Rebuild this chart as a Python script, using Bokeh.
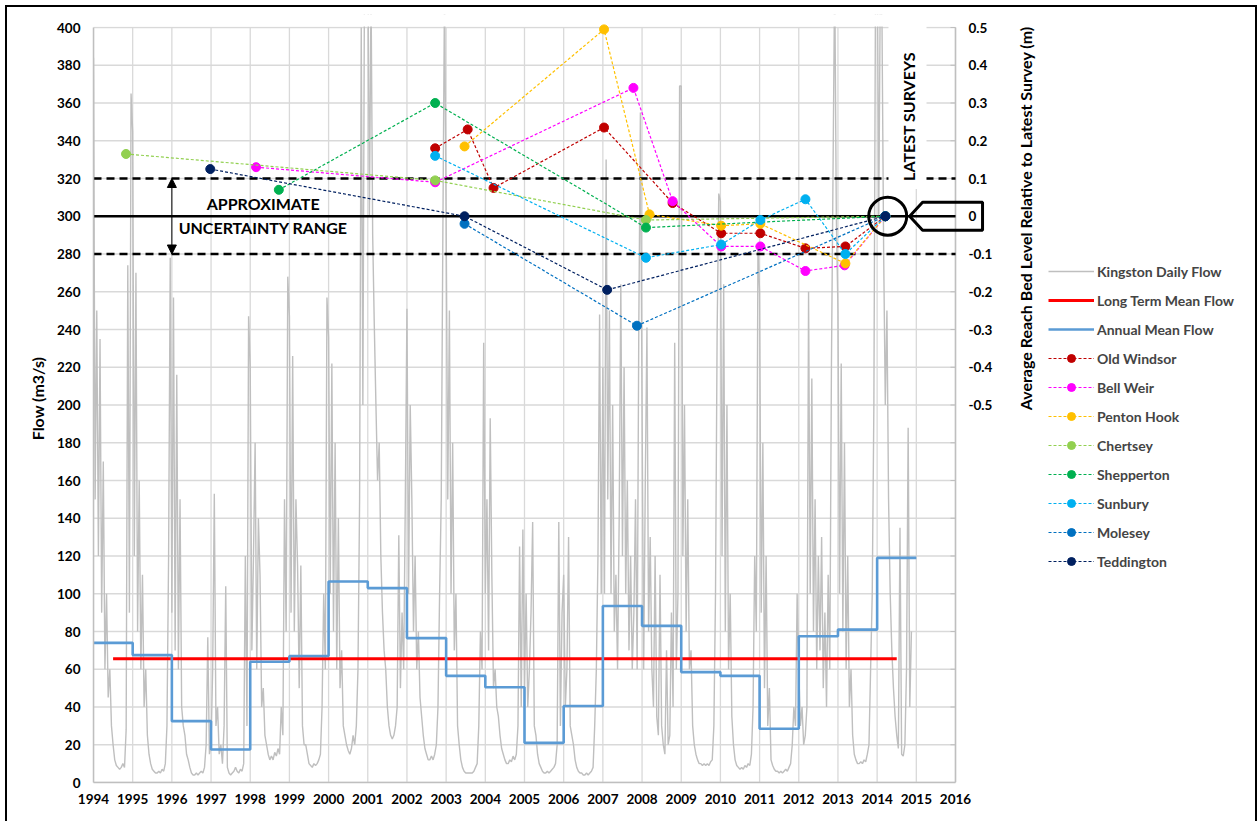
import math
from bokeh.plotting import figure
from bokeh.models import Range1d, FixedTicker, Legend, LegendItem, Label, Arrow, NormalHead
from bokeh.core.properties import value
from bokeh.embed import file_html
from bokeh.resources import INLINE

FONT = "Lato"

# ---------------- data ----------------
# Kingston daily flow (m3/s), read approximately at half-month steps, per calendar year
f1994 = [384, 150, 250, 120, 235, 90, 170, 60, 100, 45, 60, 30, 20, 12, 9, 8, 7, 8, 10, 8, 28, 274, 90, 365]
f1995 = [345, 120, 270, 80, 160, 60, 110, 40, 60, 25, 15, 10, 7, 6, 5, 5, 6, 5, 7, 6, 10, 30, 120, 278]
f1996 = [90, 257, 70, 216, 60, 150, 40, 30, 25, 15, 12, 8, 5, 4, 4, 5, 4, 5, 6, 5, 8, 20, 77, 15]
f1997 = [20, 60, 153, 30, 40, 15, 20, 10, 30, 104, 8, 5, 4, 5, 6, 8, 6, 5, 7, 6, 10, 120, 30, 247]
f1998 = [220, 70, 120, 180, 60, 140, 110, 40, 50, 25, 20, 15, 12, 14, 12, 16, 14, 18, 15, 40, 25, 150, 80, 268]
f1999 = [247, 90, 226, 80, 150, 115, 50, 115, 30, 20, 20, 15, 10, 9, 8, 10, 9, 10, 12, 15, 40, 100, 60, 257]
f2000 = [236, 100, 222, 80, 180, 60, 140, 50, 70, 30, 25, 20, 17, 15, 18, 25, 20, 30, 60, 150, 400, 200, 430, 450]
f2001 = [450, 300, 420, 290, 242, 200, 160, 180, 120, 90, 70, 60, 40, 30, 25, 23, 25, 30, 40, 131, 50, 90, 60, 150]
f2002 = [251, 100, 200, 150, 80, 120, 60, 80, 45, 35, 25, 18, 15, 12, 12, 14, 12, 15, 20, 40, 100, 150, 292, 420]
f2003 = [300, 150, 250, 100, 180, 70, 100, 30, 20, 12, 8, 6, 5, 5, 5, 5, 5, 6, 8, 10, 30, 80, 60, 233]
f2004 = [100, 150, 70, 193, 110, 50, 60, 40, 35, 25, 18, 15, 12, 10, 10, 12, 11, 14, 12, 15, 30, 125, 40, 134]
f2005 = [50, 100, 40, 60, 90, 138, 30, 25, 15, 10, 8, 6, 5, 5, 6, 5, 6, 7, 8, 10, 20, 138, 30, 90]
f2006 = [110, 40, 60, 130, 30, 25, 20, 12, 8, 6, 5, 5, 4, 4, 5, 4, 5, 6, 8, 30, 60, 120, 248, 100]
f2007 = [220, 100, 330, 150, 250, 100, 200, 80, 110, 60, 140, 264, 120, 220, 100, 160, 70, 120, 60, 90, 150, 60, 240, 355]
f2008 = [200, 60, 160, 241, 80, 130, 60, 40, 120, 35, 25, 110, 30, 20, 15, 70, 20, 25, 90, 40, 233, 60, 100, 369]
f2009 = [369, 120, 200, 80, 150, 60, 70, 30, 20, 15, 12, 10, 10, 9, 10, 9, 10, 9, 11, 12, 30, 100, 240, 312]
f2010 = [308, 120, 264, 80, 200, 60, 100, 35, 20, 12, 9, 8, 7, 8, 7, 9, 8, 10, 9, 15, 40, 120, 80, 283]
f2011 = [260, 90, 180, 50, 120, 30, 50, 12, 9, 7, 6, 6, 5, 6, 5, 6, 7, 6, 8, 10, 20, 40, 30, 100]
f2012 = [60, 30, 40, 20, 25, 40, 260, 100, 214, 80, 150, 60, 120, 70, 130, 50, 90, 40, 110, 60, 220, 325, 430, 300]
f2013 = [250, 100, 222, 80, 180, 60, 120, 40, 60, 25, 15, 12, 10, 10, 11, 10, 12, 11, 15, 20, 60, 100, 200, 420]
f2014 = [450, 300, 430, 400, 280, 200, 250, 150, 100, 70, 50, 35, 25, 18, 135, 15, 14, 20, 60, 188, 40, 80]
flow_start_year = 1994
samples_per_year = 24

# Annual mean flow (m3/s), one value per calendar year
annual_years = [1994, 1995, 1996, 1997, 1998, 1999, 2000, 2001, 2002, 2003, 2004,
                2005, 2006, 2007, 2008, 2009, 2010, 2011, 2012, 2013, 2014]
annual_mean = [74, 67.5, 32.5, 17.5, 64, 67, 106.5, 103, 76.5, 56.5, 50.5,
               21, 40.5, 93.5, 83, 58.5, 56.5, 28.5, 77.5, 81, 119]

# Long term mean flow
lt_mean = 65.5
lt_start, lt_end = 1994.5, 2014.5

# Average reach bed level relative to latest survey (m)
old_windsor_year = [2002.72, 2003.55, 2004.21, 2007.03, 2008.78, 2010.02, 2011.02, 2012.17, 2013.19, 2014.21]
old_windsor_level = [0.18, 0.23, 0.075, 0.235, 0.035, -0.045, -0.045, -0.085, -0.08, 0.0]
bell_weir_year = [1998.15, 2002.72, 2007.78, 2008.78, 2010.02, 2011.02, 2012.17, 2013.17, 2014.21]
bell_weir_level = [0.13, 0.09, 0.34, 0.04, -0.08, -0.08, -0.145, -0.13, 0.0]
penton_hook_year = [2003.47, 2007.03, 2008.19, 2010.02, 2011.02, 2013.19, 2014.21]
penton_hook_level = [0.185, 0.495, 0.005, -0.025, -0.02, -0.125, 0.0]
chertsey_year = [1994.83, 2002.72, 2008.10, 2014.21]
chertsey_level = [0.165, 0.095, -0.01, 0.0]
shepperton_year = [1998.73, 2002.72, 2008.10, 2014.21]
shepperton_level = [0.07, 0.30, -0.03, 0.0]
sunbury_year = [2002.72, 2008.10, 2010.02, 2011.02, 2012.17, 2013.19, 2014.21]
sunbury_level = [0.16, -0.11, -0.075, -0.01, 0.045, -0.10, 0.0]
molesey_year = [2003.47, 2007.87, 2014.21]
molesey_level = [-0.02, -0.29, 0.0]
teddington_year = [1996.98, 2003.47, 2007.11, 2014.21]
teddington_level = [0.125, 0.0, -0.195, 0.0]

series_names = ["Old Windsor", "Bell Weir", "Penton Hook", "Chertsey",
                "Shepperton", "Sunbury", "Molesey", "Teddington"]
series_colors = ["#C00000", "#FF00FF", "#FFC000", "#92D050",
                 "#00B050", "#00B0F0", "#0070C0", "#002060"]
series_x = [old_windsor_year, bell_weir_year, penton_hook_year, chertsey_year,
            shepperton_year, sunbury_year, molesey_year, teddington_year]
series_y = [old_windsor_level, bell_weir_level, penton_hook_level, chertsey_level,
            shepperton_level, sunbury_level, molesey_level, teddington_level]

uncertainty = 0.1          # +/- m
latest_survey_year = 2014.27

x_ticks = list(range(1994, 2017))
flow_ticks = list(range(0, 401, 20))
bed_ticks = [round(-1.5 + 0.1 * i, 1) for i in range(21)]
bed_labels = ["0.5", "0.4", "0.3", "0.2", "0.1", "0", "-0.1", "-0.2", "-0.3", "-0.4", "-0.5"]
bed_label_values = [0.5, 0.4, 0.3, 0.2, 0.1, 0.0, -0.1, -0.2, -0.3, -0.4, -0.5]

# ---------------- geometry (page pixels) ----------------
OFF = 7                     # chart border offset on the page
W, H = 1248, 814            # canvas size (page x 7..1255, y 7..821)
X0, X1 = 1994, 2016
Y0, Y1 = 0, 400
FRAME_L, FRAME_R_AXIS, FRAME_R = 93, 955, 1253
AXIS_TOP, FRAME_TOP, FRAME_BOTTOM = 27, 14, 782
PX_PER_YEAR = (FRAME_R_AXIS - FRAME_L) / (X1 - X0)
PX_PER_FLOW = (FRAME_BOTTOM - AXIS_TOP) / (Y1 - Y0)
X_END = X1 + (FRAME_R - FRAME_R_AXIS) / PX_PER_YEAR
Y_END = Y1 + (AXIS_TOP - FRAME_TOP) / PX_PER_FLOW
BED_END = 0.5 + (Y_END - Y1) / 200.0

def dx(px):
    """horizontal pixel distance -> years"""
    return px / PX_PER_YEAR

p = figure(width=W, height=H, output_backend="svg", toolbar_location=None, tools="",
           x_range=Range1d(X0, X_END), y_range=Range1d(Y0, Y_END),
           min_border_left=FRAME_L - OFF, min_border_right=(OFF + W) - FRAME_R,
           min_border_top=FRAME_TOP - OFF, min_border_bottom=(OFF + H) - FRAME_BOTTOM)
p.extra_y_ranges = {"bed": Range1d(-1.5, BED_END)}
p.outline_line_color = None
p.background_fill_color = "white"
p.border_fill_color = "white"
p.xgrid.visible = False
p.ygrid.visible = False
p.styles = {"margin-left": f"{OFF}px", "margin-top": f"{OFF}px",
            "box-shadow": "0 0 0 2px black"}

def bed_to_flow(m):
    return 300 + m * 200

# gridlines (limited to the chart area, the right of the frame holds the legend)
GRID = "#D9D9D9"
p.segment(x0=[X0] * len(flow_ticks), x1=[X1] * len(flow_ticks), y0=flow_ticks, y1=flow_ticks,
          line_color=GRID, line_width=1.3)
p.segment(x0=x_ticks, x1=x_ticks, y0=[Y0] * len(x_ticks), y1=[Y1] * len(x_ticks),
          line_color=GRID, line_width=1.3)

# axes
for ax in (p.xaxis[0], p.yaxis[0]):
    ax.axis_line_color = "#BFBFBF"
    ax.axis_line_width = 1.5
    ax.major_tick_in = 0
    ax.major_tick_out = 0
    ax.minor_tick_in = 0
    ax.minor_tick_out = 0
    ax.major_label_text_font = FONT
    ax.major_label_text_font_style = "bold"
    ax.major_label_text_font_size = "13.5px"
    ax.major_label_text_color = "black"
p.xaxis.ticker = FixedTicker(ticks=x_ticks)
p.xaxis.bounds = (X0, X1)
p.xaxis.major_label_standoff = 11
p.yaxis.ticker = FixedTicker(ticks=flow_ticks)
p.yaxis.bounds = (Y0, Y1)
p.yaxis.major_label_standoff = 13
p.yaxis.axis_label = "Flow (m3/s)"
p.yaxis.axis_label_text_font = FONT
p.yaxis.axis_label_text_font_style = "bold"
p.yaxis.axis_label_text_color = "black"
p.yaxis.axis_label_text_font_size = "16px"
p.yaxis.axis_label_standoff = 7

# ---------------- flow series ----------------
kingston_flow = (f1994 + f1995 + f1996 + f1997 + f1998 + f1999 + f2000 + f2001 + f2002 + f2003
                 + f2004 + f2005 + f2006 + f2007 + f2008 + f2009 + f2010 + f2011 + f2012
                 + f2013 + f2014)
flow_x = [flow_start_year + i / samples_per_year for i in range(len(kingston_flow))]
r_daily = p.line(flow_x, kingston_flow, line_color="#BFBFBF", line_width=1.4)

# plot area ends at 400 m3/s: mask the strip above it
p.quad(left=X0 - 1, right=X_END, bottom=Y1 + 0.5, top=Y_END + 5, fill_color="white", line_color=None)

r_lt = p.line([lt_start, lt_end], [lt_mean, lt_mean], line_color="#FF0000", line_width=3)

step_x = annual_years + [annual_years[-1] + 1]
step_y = annual_mean + [annual_mean[-1]]
r_annual = p.step(step_x, step_y, mode="after", line_color="#5B9BD5", line_width=2.6)

# right-hand (bed level) axis, drawn at 2016 on the secondary range
p.segment(x0=[X1], x1=[X1], y0=[-1.5], y1=[0.5], y_range_name="bed",
          line_color="#BFBFBF", line_width=1.5)
p.segment(x0=[X1 - dx(5)] * len(bed_ticks), x1=[X1] * len(bed_ticks), y0=bed_ticks, y1=bed_ticks,
          y_range_name="bed", line_color="#BFBFBF", line_width=1)
p.text(x=[X1 + dx(13)] * len(bed_labels), y=bed_label_values, text=bed_labels,
       y_range_name="bed", text_font=value(FONT), text_font_style="bold",
       text_font_size="13.5px", text_color="black", text_align="left", text_baseline="middle")

# ---------------- reference lines ----------------
p.line([X0, X1], [uncertainty, uncertainty], y_range_name="bed",
       line_color="black", line_width=2.5, line_dash="8 5")
p.line([X0, X1], [-uncertainty, -uncertainty], y_range_name="bed",
       line_color="black", line_width=2.5, line_dash="8 5")
p.line([X0, X1], [0, 0], y_range_name="bed", line_color="black", line_width=2.5)

# white box behind "LATEST SURVEYS"
p.quad(left=2014.29, right=2015.26, bottom=0.072, top=0.6, y_range_name="bed",
       fill_color="white", line_color=None)

# ---------------- survey series ----------------
legend_items = [LegendItem(label="Kingston Daily Flow", renderers=[r_daily]),
                LegendItem(label="Long Term Mean Flow", renderers=[r_lt]),
                LegendItem(label="Annual Mean Flow", renderers=[r_annual])]
for name, xs, ys, col in zip(series_names, series_x, series_y, series_colors):
    rl = p.line(xs, ys, y_range_name="bed", line_color=col, line_width=1.2, line_dash="3 2")
    rs = p.scatter(xs, ys, y_range_name="bed", size=9, fill_color=col, line_color=col)
    legend_items.append(LegendItem(label=name, renderers=[rl, rs]))

# circle round the latest surveys
p.scatter([latest_survey_year], [0], y_range_name="bed", marker="circle", size=38,
          fill_color=None, line_color="black", line_width=3)

# pentagon pointer towards the zero label
ptr_x = [2014.83, 2015.16, 2016.69, 2016.69, 2015.16]
ptr_y = [0, 0.037, 0.037, -0.037, -0.037]
p.patch(ptr_x, ptr_y, y_range_name="bed", fill_alpha=0, line_color="black", line_width=3)

# double headed arrow for the uncertainty range
p.add_layout(Arrow(start=NormalHead(size=9, fill_color="black", line_color="black"),
                   end=NormalHead(size=9, fill_color="black", line_color="black"),
                   x_start=1996.0, y_start=bed_to_flow(-uncertainty),
                   x_end=1996.0, y_end=bed_to_flow(uncertainty),
                   line_color="black", line_width=1))

def add_label(x, y, text, size, angle=0.0):
    p.add_layout(Label(x=x, y=y, text=text, angle=angle, text_align="center",
                       text_baseline="middle", text_font=FONT, text_font_style="bold",
                       text_font_size=size, text_color="black"))

add_label(1998.33, 306.8, "APPROXIMATE", "16px")
add_label(1998.33, 294.1, "UNCERTAINTY RANGE", "16px")
add_label(2014.80, 352.9, "LATEST SURVEYS", "16px", angle=math.pi / 2)
add_label(X1 + dx(70), 298.9, "Average Reach Bed Level Relative to Latest Survey (m)", "16px",
          angle=math.pi / 2)

legend = Legend(items=legend_items, location=(955, 211), padding=0, spacing=9,
                glyph_height=20, label_height=20, glyph_width=46, label_standoff=3,
                border_line_color=None, background_fill_alpha=0,
                label_text_font=FONT, label_text_font_style="bold",
                label_text_font_size="14px")
p.add_layout(legend)

open("out.html", "w").write(file_html(p, INLINE))
